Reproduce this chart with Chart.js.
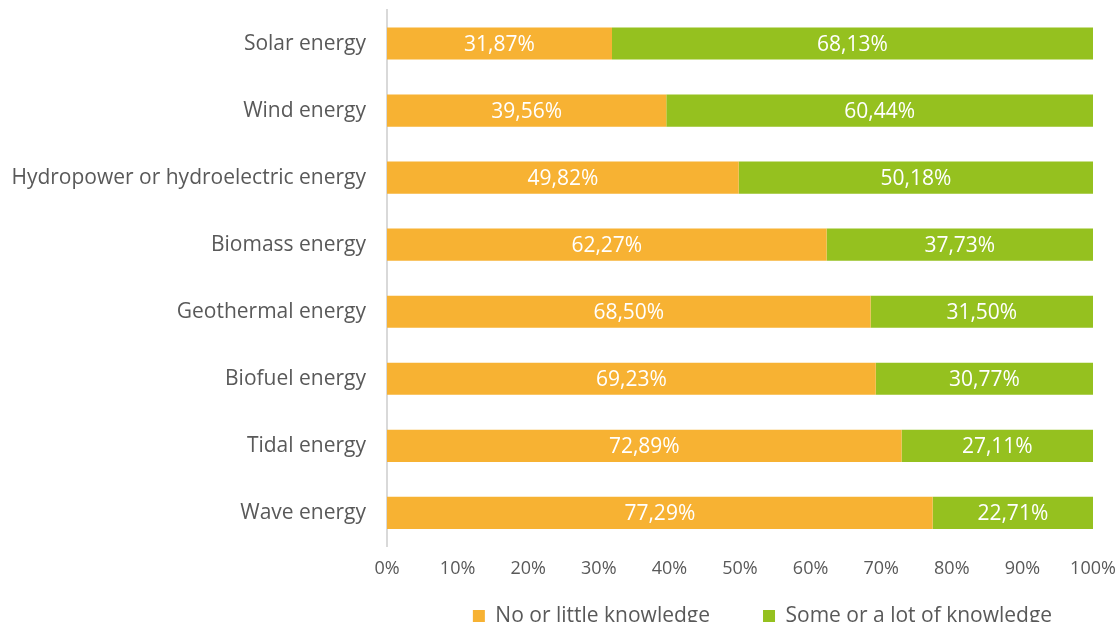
<!DOCTYPE html>
<html>
<head>
<meta charset="utf-8">
<script src="https://cdn.jsdelivr.net/npm/chart.js@4"></script>
<style>
  body { margin: 0; overflow: hidden; background: #fff; }
  #wrap { width: 1119px; height: 622px; }
</style>
</head>
<body>
<div id="wrap"><canvas id="knowledgeChart"></canvas></div>
<script>
// Energy sources, top to bottom
const categories = ['Solar energy', 'Wind energy', 'Hydropower or hydroelectric energy', 'Biomass energy',
  'Geothermal energy', 'Biofuel energy', 'Tidal energy', 'Wave energy'];
const noKnowledge = [31.87, 39.56, 49.82, 62.27, 68.50, 69.23, 72.89, 77.29];
const someKnowledge = [68.13, 60.44, 50.18, 37.73, 31.50, 30.77, 27.11, 22.71];
const xTicks = [0, 10, 20, 30, 40, 50, 60, 70, 80, 90, 100];

const textGrey = '#595959';
const fontName = "'Open Sans', sans-serif";

// white value labels in the middle of each segment
const segmentLabels = {
  id: 'segmentLabels',
  afterDatasetsDraw(chart) {
    const ctx = chart.ctx;
    ctx.save();
    ctx.font = '21px ' + fontName;
    ctx.fillStyle = '#ffffff';
    ctx.textAlign = 'center';
    ctx.textBaseline = 'middle';
    chart.data.datasets.forEach((ds, i) => {
      chart.getDatasetMeta(i).data.forEach((bar, j) => {
        const p = bar.getProps(['x', 'y', 'base'], true);
        const txt = ds.data[j].toFixed(2).replace('.', ',') + '%';
        ctx.fillText(txt, (p.x + p.base) / 2, p.y + 1);
      });
    });
    ctx.restore();
  }
};

// legend sits under the plot, not centred on the canvas
const shiftLegend = {
  id: 'shiftLegend',
  afterLayout(chart) {
    const lg = chart.legend;
    lg.left += 216;
    lg.right += 216;
    lg.top = 552.5;
    lg.bottom = 700;
  }
};

new Chart(document.getElementById('knowledgeChart'), {
  type: 'bar',
  data: {
    labels: categories,
    datasets: [{
      label: 'No or little knowledge',
      data: noKnowledge,
      backgroundColor: '#F7B233',
      barPercentage: 0.48,
      categoryPercentage: 1
    }, {
      label: 'Some or a lot of knowledge',
      data: someKnowledge,
      backgroundColor: '#95C11F',
      barPercentage: 0.48,
      categoryPercentage: 1
    }]
  },
  options: {
    indexAxis: 'y',
    responsive: true,
    maintainAspectRatio: false,
    animation: false,
    layout: { padding: { top: 10, right: 26, left: 0, bottom: 0 } },
    scales: {
      x: {
        stacked: true,
        min: 0,
        max: 100,
        grid: { display: false, drawTicks: false },
        border: { display: false },
        afterBuildTicks(scale) { scale.ticks = xTicks.map(v => ({ value: v })); },
        afterFit(scale) { scale.paddingLeft = 0; scale.paddingRight = 0; },
        ticks: {
          padding: 12,
          color: textGrey,
          font: { family: fontName, size: 18 },
          callback: v => v + '%'
        }
      },
      y: {
        stacked: true,
        grid: { display: false },
        border: { display: true, color: '#D9D9D9', width: 2 },
        afterFit(scale) {
          scale.width = 387;
          scale.paddingTop = 0;
          scale.paddingBottom = 0;
        },
        ticks: {
          padding: 13,
          color: textGrey,
          font: { family: fontName, size: 21 }
        }
      }
    },
    plugins: {
      legend: {
        position: 'bottom',
        maxHeight: 30,
        labels: {
          color: textGrey,
          font: { family: fontName, size: 21 },
          boxWidth: 12,
          boxHeight: 12,
          padding: 53
        }
      },
      tooltip: { enabled: false }
    }
  },
  plugins: [segmentLabels, shiftLegend]
});
</script>
</body>
</html>
